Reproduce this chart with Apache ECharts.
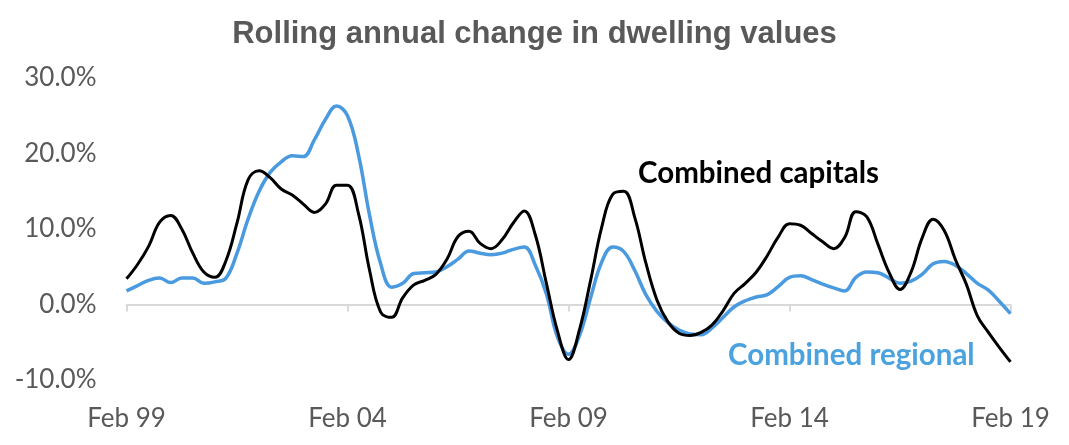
<!DOCTYPE html>
<html>
<head>
<meta charset="utf-8">
<script src="https://cdn.jsdelivr.net/npm/echarts@6/dist/echarts.min.js"></script>
<style>
html,body{margin:0;padding:0;background:#fff;}
#chart{width:1069px;height:445px;}
</style>
</head>
<body>
<div id="chart"></div>
<script>
// Quarterly observations, Feb 1999 .. Feb 2019
const months = ['Feb','May','Aug','Nov'];
const categories = [];
for (let y = 1999; y <= 2019; y++) {
  for (let i = 0; i < 4; i++) {
    if (y === 2019 && i > 0) break;
    categories.push(months[i] + ' ' + String(y % 100).padStart(2, '0'));
  }
}

const combinedCapitals = [
  3.4, 5.3, 7.7, 10.9, 11.8, 10.0, 6.8, 4.3, 3.6, 5.8,
  10.8, 16.5, 17.7, 16.8, 15.3, 14.5, 13.3, 12.2, 13.3, 15.8,
  15.8, 12.0, 4.5, -1.0, -1.7, 0.9, 2.6, 3.2, 4.0, 6.0,
  9.0, 9.7, 8.1, 7.4, 8.6, 10.8, 12.4, 9.2, 2.8, -3.5,
  -7.3, -3.3, 3.2, 10.2, 14.6, 15.0, 11.5, 5.5, 0.6, -2.3,
  -3.8, -4.1, -3.7, -2.7, -0.8, 1.5, 2.8, 4.3, 6.5, 9.0,
  10.7, 10.5, 9.4, 8.3, 7.4, 8.9, 12.3, 11.6, 8.0, 4.3,
  2.0, 4.3, 8.8, 11.3, 9.8, 6.0, 2.7, -1.5, -3.7, -5.7,
  -7.6
];

const combinedRegional = [
  1.8, 2.5, 3.2, 3.5, 2.9, 3.5, 3.5, 2.8, 3.0, 3.5,
  6.8, 11.3, 15.0, 17.5, 18.9, 19.7, 19.6, 21.8, 24.5, 26.3,
  25.0, 19.8, 11.8, 5.4, 2.3, 2.8, 4.1, 4.2, 4.3, 5.0,
  6.0, 7.1, 6.8, 6.6, 6.8, 7.3, 7.6, 5.2, 1.4, -4.3,
  -6.6, -4.1, 0.9, 5.6, 7.6, 7.0, 4.5, 1.3, -0.9, -2.4,
  -3.4, -3.9, -4.0, -3.1, -1.7, -0.3, 0.5, 1.0, 1.3, 2.4,
  3.6, 3.8, 3.3, 2.7, 2.2, 1.8, 3.6, 4.3, 4.2, 3.5,
  2.8, 3.1, 4.0, 5.4, 5.7, 5.2, 4.1, 2.8, 1.9, 0.4,
  -1.2
];

const yTicks = { min: -10, max: 30, interval: 10 };
const labelEvery = 20; // one label every 5 years

const chart = echarts.init(document.getElementById('chart'));
chart.setOption({
  animation: false,
  title: {
    text: 'Rolling annual change in dwelling values',
    left: 'center',
    top: 14,
    textStyle: { fontFamily: 'Liberation Sans', fontWeight: 'bold', fontSize: 31, color: '#595959' }
  },
  grid: { left: 126.5, right: 58.5, top: 78, bottom: 65, containLabel: false },
  xAxis: [
    {
      type: 'category',
      data: categories,
      boundaryGap: false,
      axisLine: { onZero: true, lineStyle: { color: '#d9d9d9', width: 2 } },
      axisTick: { show: true, interval: labelEvery - 1, length: 7, lineStyle: { color: '#d9d9d9', width: 2 } },
      axisLabel: { show: false },
      splitLine: { show: false }
    },
    {
      type: 'category',
      data: categories,
      boundaryGap: false,
      position: 'bottom',
      axisLine: { show: false, onZero: false },
      axisTick: { show: false },
      axisLabel: {
        interval: labelEvery - 1,
        margin: 26,
        fontFamily: 'Lato',
        fontSize: 26,
        color: '#595959'
      },
      splitLine: { show: false }
    }
  ],
  yAxis: {
    type: 'value',
    min: yTicks.min,
    max: yTicks.max,
    interval: yTicks.interval,
    axisLine: { show: false },
    axisTick: { show: false },
    splitLine: { show: false },
    axisLabel: {
      margin: 30,
      fontFamily: 'Lato',
      fontSize: 26,
      color: '#595959',
      formatter: v => v.toFixed(1) + '%'
    }
  },
  series: [
    {
      name: 'Combined capitals',
      type: 'line',
      xAxisIndex: 0,
      data: combinedCapitals,
      smooth: 0.4,
      symbol: 'none',
      lineStyle: { color: '#000000', width: 3 },
      z: 3
    },
    {
      name: 'Combined regional',
      type: 'line',
      xAxisIndex: 0,
      data: combinedRegional,
      smooth: 0.4,
      symbol: 'none',
      lineStyle: { color: '#4a9ae0', width: 3.5 },
      z: 2
    }
  ],
  graphic: [
    {
      type: 'text',
      left: 638,
      top: 158,
      style: { text: 'Combined capitals', fontFamily: 'Lato', fontWeight: 'bold', fontSize: 29.5, fill: '#000000' }
    },
    {
      type: 'text',
      left: 728,
      top: 340,
      style: { text: 'Combined regional', fontFamily: 'Lato', fontWeight: 'bold', fontSize: 29.5, fill: '#4aa3df' }
    }
  ]
});
</script>
</body>
</html>
